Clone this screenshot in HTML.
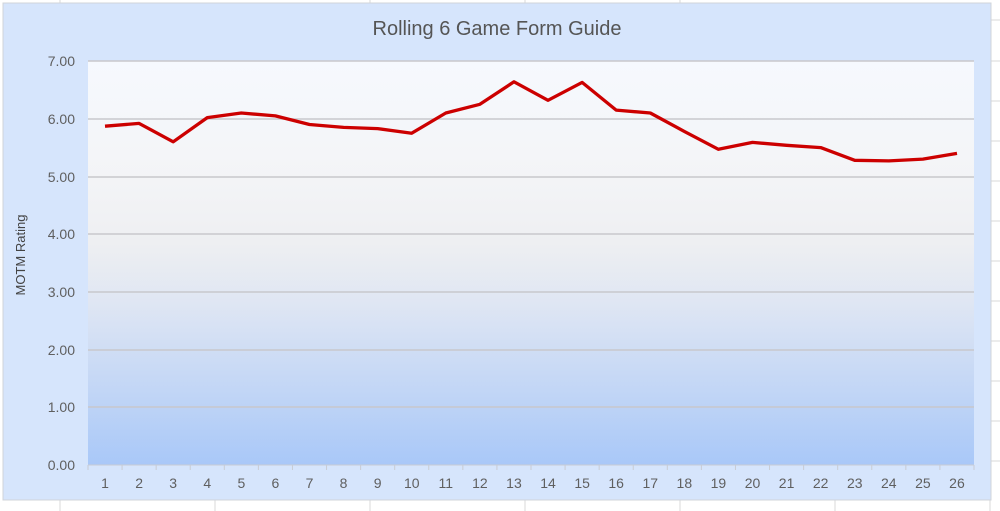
<!DOCTYPE html>
<html><head><meta charset="utf-8"><style>
html,body{margin:0;padding:0;background:#fff;}
svg{display:block;font-family:"Liberation Sans",Arial,sans-serif;}
</style></head><body>
<svg width="1000" height="511" viewBox="0 0 1000 511" xmlns="http://www.w3.org/2000/svg">
<defs>
<linearGradient id="g" x1="0" y1="61" x2="0" y2="465" gradientUnits="userSpaceOnUse">
<stop offset="0" stop-color="#f6f9fe"/>
<stop offset="0.3" stop-color="#f3f4f6"/>
<stop offset="0.45" stop-color="#eeeff2"/>
<stop offset="0.6" stop-color="#dfe6f3"/>
<stop offset="1" stop-color="#a9c8f8"/>
</linearGradient>
</defs>
<g stroke="#dadada" stroke-width="1">
<line x1="60" y1="500" x2="60" y2="511"/><line x1="215" y1="500" x2="215" y2="511"/><line x1="370" y1="500" x2="370" y2="511"/><line x1="525" y1="500" x2="525" y2="511"/><line x1="680" y1="500" x2="680" y2="511"/><line x1="835" y1="500" x2="835" y2="511"/><line x1="990" y1="500" x2="990" y2="511"/>
<line x1="60" y1="0" x2="60" y2="3"/><line x1="370" y1="0" x2="370" y2="3"/><line x1="525" y1="0" x2="525" y2="3"/><line x1="680" y1="0" x2="680" y2="3"/>
<line x1="991" y1="20" x2="1000" y2="20"/><line x1="991" y1="61" x2="1000" y2="61"/><line x1="991" y1="101" x2="1000" y2="101"/><line x1="991" y1="141" x2="1000" y2="141"/><line x1="991" y1="181" x2="1000" y2="181"/><line x1="991" y1="221" x2="1000" y2="221"/><line x1="991" y1="261" x2="1000" y2="261"/><line x1="991" y1="301" x2="1000" y2="301"/><line x1="991" y1="341" x2="1000" y2="341"/><line x1="991" y1="381" x2="1000" y2="381"/><line x1="991" y1="421" x2="1000" y2="421"/><line x1="991" y1="461" x2="1000" y2="461"/>
</g>
<rect x="3" y="3" width="988" height="497" fill="#d6e5fc" stroke="#d0d4da" stroke-width="1"/>
<rect x="88" y="61" width="886" height="404" fill="url(#g)"/>
<g stroke="#c8c8cc" stroke-width="1.5">
<line x1="88" y1="61" x2="974" y2="61"/><line x1="88" y1="119" x2="974" y2="119"/><line x1="88" y1="177" x2="974" y2="177"/><line x1="88" y1="234" x2="974" y2="234"/><line x1="88" y1="292" x2="974" y2="292"/><line x1="88" y1="350" x2="974" y2="350"/><line x1="88" y1="407" x2="974" y2="407"/>
</g>
<line x1="88" y1="465" x2="974" y2="465" stroke="#c8ccd4" stroke-width="1"/>
<g fill="#5f5f5f" font-size="14" text-anchor="end">
<text x="75" y="66">7.00</text><text x="75" y="124">6.00</text><text x="75" y="182">5.00</text><text x="75" y="239">4.00</text><text x="75" y="297">3.00</text><text x="75" y="355">2.00</text><text x="75" y="412">1.00</text><text x="75" y="470">0.00</text>
</g>
<text x="25" y="255" fill="#444" font-size="13" text-anchor="middle" transform="rotate(-90 25 255)">MOTM Rating</text>
<text x="497" y="35" fill="#555" font-size="20" text-anchor="middle">Rolling 6 Game Form Guide</text>
<g id="xt" fill="#5f5f5f" font-size="14" text-anchor="middle"></g>
<g id="tk" stroke="#c8ccd4" stroke-width="1"></g>
<polyline id="ln" fill="none" stroke="#cc0000" stroke-width="3.3" stroke-linejoin="round" points=""/>
<script>
var v=[5.87,5.92,5.60,6.02,6.10,6.05,5.90,5.85,5.83,5.75,6.10,6.25,6.64,6.32,6.63,6.15,6.10,5.78,5.47,5.59,5.54,5.50,5.28,5.27,5.30,5.40];
var w=886/26,p=[],xt=document.getElementById('xt'),tk=document.getElementById('tk'),ns="http://www.w3.org/2000/svg";
for(var i=0;i<26;i++){var x=88+w*(i+0.5);p.push(x.toFixed(1)+","+(465-v[i]*57.71).toFixed(1));
var t=document.createElementNS(ns,'text');t.setAttribute('x',x);t.setAttribute('y',488);t.textContent=i+1;xt.appendChild(t);}
for(var i=0;i<=26;i++){var l=document.createElementNS(ns,'line');var x=88+w*i;l.setAttribute('x1',x);l.setAttribute('x2',x);l.setAttribute('y1',465);l.setAttribute('y2',470);tk.appendChild(l);}
document.getElementById('ln').setAttribute('points',p.join(' '));
</script>
</svg>
</body></html>
